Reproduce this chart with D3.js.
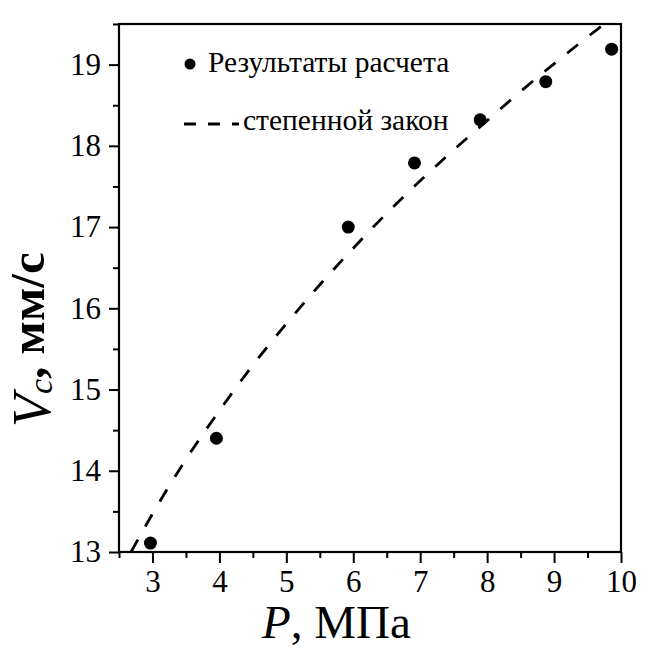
<!DOCTYPE html>
<html>
<head>
<meta charset="utf-8">
<script src="https://cdn.jsdelivr.net/npm/d3@7"></script>
<style>
  body { margin: 0; background: #fff; }
  svg { display: block; }
</style>
</head>
<body>
<svg id="chart" width="650" height="652"></svg>
<script>
// calculated points
const P_calc = [2.97, 3.955, 5.925, 6.915, 7.896, 8.876, 9.86];
const V_calc = [13.11, 14.40, 17.00, 17.79, 18.32, 18.79, 19.19];

// power law curve
const P_fit = [2.68, 3.0, 3.5, 4.0, 4.5, 5.0, 5.5, 6.0, 6.5, 7.0, 7.5, 8.0, 8.5, 9.0, 9.5, 10.0];
const V_fit = [13.0, 13.47, 14.14, 14.74, 15.30, 15.81, 16.29, 16.74, 17.17, 17.57, 17.95, 18.31, 18.67, 19.01, 19.34, 19.66];

const xTicks = [3, 4, 5, 6, 7, 8, 9, 10];
const yTicks = [13, 14, 15, 16, 17, 18, 19];
const legendLabels = ["Результаты расчета", "степенной закон"];

const serif = "'Liberation Serif', 'Times New Roman', serif";
const svg = d3.select("#chart");
const plotL = 119, plotR = 621, plotT = 24, plotB = 552;

const x = d3.scaleLinear().domain([2.5, 10]).range([plotL, plotR]);
const y = d3.scaleLinear().domain([13, 19.5]).range([plotB, plotT]);

svg.append("defs").append("clipPath").attr("id", "plotClip")
    .append("rect")
    .attr("x", plotL).attr("y", plotT)
    .attr("width", plotR - plotL).attr("height", plotB - plotT);

// minor ticks first
const xMinor = d3.range(2.5, 10.01, 0.5).filter(d => !xTicks.includes(d));
const yMinor = d3.range(13, 19.51, 0.5).filter(d => !yTicks.includes(d));

svg.append("g")
    .attr("transform", `translate(0,${plotB})`)
    .call(d3.axisBottom(x).tickValues(xMinor).tickSize(6).tickFormat(""))
    .call(g => g.select(".domain").remove())
    .call(g => g.selectAll("line").attr("stroke-width", 2));

svg.append("g")
    .attr("transform", `translate(${plotL},0)`)
    .call(d3.axisLeft(y).tickValues(yMinor).tickSize(6).tickFormat(""))
    .call(g => g.select(".domain").remove())
    .call(g => g.selectAll("line").attr("stroke-width", 2));

const xAxis = svg.append("g")
    .attr("transform", `translate(0,${plotB})`)
    .call(d3.axisBottom(x).tickValues(xTicks).tickSize(11).tickPadding(7).tickFormat(d3.format("d")));
xAxis.select(".domain").remove();
xAxis.selectAll("line").attr("stroke-width", 2);
xAxis.selectAll("text").style("font-family", serif).style("font-size", "31px").attr("fill", "#000");

const yAxis = svg.append("g")
    .attr("transform", `translate(${plotL},0)`)
    .call(d3.axisLeft(y).tickValues(yTicks).tickSize(10).tickPadding(8).tickFormat(d3.format("d")));
yAxis.select(".domain").remove();
yAxis.selectAll("line").attr("stroke-width", 2);
yAxis.selectAll("text").style("font-family", serif).style("font-size", "31px").attr("fill", "#000");

// frame
svg.append("rect")
    .attr("x", plotL).attr("y", plotT)
    .attr("width", plotR - plotL).attr("height", plotB - plotT)
    .attr("fill", "none").attr("stroke", "#000").attr("stroke-width", 2.2);

// dashed power law
const fitData = P_fit.map((p, i) => ({ p, v: V_fit[i] }));
const line = d3.line().x(d => x(d.p)).y(d => y(d.v)).curve(d3.curveMonotoneX);
svg.append("path")
    .datum(fitData)
    .attr("clip-path", "url(#plotClip)")
    .attr("d", line)
    .attr("fill", "none")
    .attr("stroke", "#000")
    .attr("stroke-width", 2.8)
    .attr("stroke-dasharray", "14,15");

// points
svg.append("g").selectAll("circle")
    .data(P_calc.map((p, i) => ({ p, v: V_calc[i] })))
    .join("circle")
    .attr("cx", d => x(d.p))
    .attr("cy", d => y(d.v))
    .attr("r", 6.5)
    .attr("fill", "#000");

// legend
const legend = svg.append("g").style("font-family", serif).style("font-size", "29.5px");
legend.append("circle").attr("cx", 190).attr("cy", 64).attr("r", 5.5).attr("fill", "#000");
legend.append("text").attr("x", 208).attr("y", 72).text(legendLabels[0]);
legend.append("line")
    .attr("x1", 184).attr("x2", 239).attr("y1", 124).attr("y2", 124)
    .attr("stroke", "#000").attr("stroke-width", 2.8).attr("stroke-dasharray", "12,12");
legend.append("text").attr("x", 243).attr("y", 130).text(legendLabels[1]);

// x axis title
const xt = svg.append("text")
    .attr("x", 262).attr("y", 638)
    .style("font-family", serif).style("font-size", "47px");
xt.append("tspan").attr("font-style", "italic").text("P");
xt.append("tspan").text(", МПа");

// y axis title
const yt = svg.append("text")
    .attr("transform", "translate(50,427) rotate(-90)")
    .style("font-family", serif).style("font-size", "49px");
yt.append("tspan").attr("font-style", "italic").style("font-size", "54px").text("V");
yt.append("tspan").attr("font-style", "italic").style("font-size", "34px").attr("dy", 2).text("c");
yt.append("tspan").attr("dy", -8).attr("font-weight", "bold").text(", мм/с");
</script>
</body>
</html>
